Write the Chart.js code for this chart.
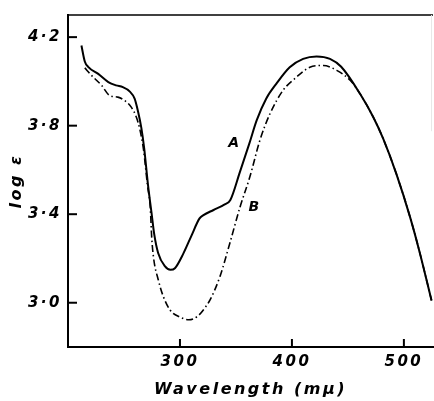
<!DOCTYPE html>
<html>
<head>
<meta charset="utf-8">
<script src="https://cdn.jsdelivr.net/npm/chart.js@4/dist/chart.umd.min.js"></script>
<style>
html,body{margin:0;padding:0;background:#fff;}
</style>
</head>
<body>
<canvas id="chart" width="434" height="401"></canvas>
<script>
// curve A (solid)
var waveA = [212, 215, 218, 227, 236, 243, 249, 255, 259.5, 262.5, 265.5, 268, 271.5, 274.5, 277, 280.5,
    286.5, 291.5, 295.5, 303, 310, 317.5, 321, 330, 340, 345, 353.5, 362, 368.5, 377, 386, 398, 410, 422,
    434, 444, 460.7, 472.6, 481.5, 493.5, 505.4, 514.3, 524.7];
var logA = [4.162, 4.09, 4.066, 4.034, 3.997, 3.982, 3.974, 3.955, 3.922, 3.865, 3.79, 3.70, 3.53, 3.41, 3.31, 3.225,
    3.165, 3.149, 3.156, 3.222, 3.30, 3.381, 3.396, 3.419, 3.444, 3.464, 3.59, 3.72, 3.824, 3.922, 3.989, 4.064, 4.102, 4.113,
    4.102, 4.066, 3.945, 3.839, 3.741, 3.579, 3.389, 3.224, 3.01];
// curve B (dash-dot)
var waveB = [215, 221, 230, 237, 244.5, 250.5, 256.5, 261, 264, 267.5, 271, 273.5, 274.7, 276.5, 280.6, 285, 291,
    300, 308, 316, 322, 327, 335.7, 344.6, 353.5, 362.5, 371.4, 380.4, 392, 404, 416, 428, 440,
    452, 460.7, 472.6, 481.5, 493.5, 505.4, 514.3, 524.7];
var logB = [4.061, 4.027, 3.982, 3.937, 3.929, 3.914, 3.884, 3.839, 3.787, 3.69, 3.53, 3.43, 3.30, 3.20, 3.104, 3.03, 2.968,
    2.935, 2.923, 2.94, 2.975, 3.014, 3.118, 3.27, 3.43, 3.57, 3.734, 3.854, 3.959, 4.019, 4.064, 4.072, 4.05,
    4.005, 3.945, 3.839, 3.741, 3.579, 3.389, 3.224, 3.01];
var xTicks = [300, 400, 500];
var yTicks = [3.0, 3.4, 3.8, 4.2];

var labelFont = {family: 'DejaVu Sans', style: 'italic', weight: 'bold', size: 15};

function pts(xs, ys){
    var out = [];
    for (var i = 0; i < xs.length; i++) out.push({x: xs[i], y: ys[i]});
    return out;
}

// ticks point into the plot, plus the thin frame on top/right, plus curve names
var extras = {
    id: 'extras',
    beforeDraw: function(chart){
        chart.ctx.letterSpacing = '2.5px';
    },
    afterDraw: function(chart){
        var ctx = chart.ctx, a = chart.chartArea;
        var sx = chart.scales.x, sy = chart.scales.y;
        ctx.save();
        ctx.strokeStyle = '#000';
        ctx.lineWidth = 2;
        xTicks.forEach(function(v){
            var px = sx.getPixelForValue(v);
            ctx.beginPath(); ctx.moveTo(px, a.bottom); ctx.lineTo(px, a.bottom - 8); ctx.stroke();
        });
        yTicks.forEach(function(v){
            var py = sy.getPixelForValue(v);
            ctx.beginPath(); ctx.moveTo(a.left, py); ctx.lineTo(a.left + 9, py); ctx.stroke();
        });
        ctx.lineWidth = 1.5;
        ctx.beginPath(); ctx.moveTo(a.left, a.top); ctx.lineTo(a.right, a.top); ctx.stroke();
        ctx.strokeStyle = '#e8e8e8';
        ctx.lineWidth = 1;
        ctx.beginPath(); ctx.moveTo(a.right - 1.5, a.top); ctx.lineTo(a.right - 1.5, a.top + (a.bottom - a.top) * 0.35); ctx.stroke();

        ctx.fillStyle = '#000';
        ctx.font = 'italic bold 14px "DejaVu Sans"';
        ctx.textAlign = 'center';
        ctx.textBaseline = 'middle';
        ctx.fillText('A', sx.getPixelForValue(349), sy.getPixelForValue(3.72));
        ctx.fillText('B', sx.getPixelForValue(367), sy.getPixelForValue(3.43));
        ctx.restore();
    }
};

new Chart(document.getElementById('chart'), {
    type: 'scatter',
    data: {
        datasets: [{
            label: 'A',
            data: pts(waveA, logA),
            showLine: true,
            borderColor: '#000',
            borderWidth: 2,
            pointRadius: 0,
            cubicInterpolationMode: 'monotone'
        }, {
            label: 'B',
            data: pts(waveB, logB),
            showLine: true,
            borderColor: '#000',
            borderWidth: 1.6,
            borderDash: [7, 3, 1.5, 3],
            pointRadius: 0,
            cubicInterpolationMode: 'monotone'
        }]
    },
    options: {
        responsive: false,
        animation: false,
        layout: {padding: {top: 14, right: 1, left: 0, bottom: 0}},
        plugins: {legend: {display: false}, tooltip: {enabled: false}},
        scales: {
            x: {
                type: 'linear', min: 200, max: 526,
                afterBuildTicks: function(s){ s.ticks = xTicks.map(function(v){ return {value: v}; }); },
                afterFit: function(s){ s.height = 54; },
                grid: {display: true, drawOnChartArea: false, drawTicks: false},
                border: {display: true, color: '#000', width: 2},
                ticks: {color: '#000', font: labelFont, padding: 6, maxRotation: 0,
                    callback: function(v){ return String(v); }},
                title: {display: true, text: 'Wavelength (mμ)', color: '#000',
                    font: {family: 'DejaVu Sans', style: 'italic', weight: 'bold', size: 16},
                    padding: {top: 0, bottom: 2}}
            },
            y: {
                type: 'linear', min: 2.8, max: 4.3,
                afterBuildTicks: function(s){ s.ticks = yTicks.map(function(v){ return {value: v}; }); },
                afterFit: function(s){ s.width = 68; },
                grid: {display: true, drawOnChartArea: false, drawTicks: false},
                border: {display: true, color: '#000', width: 2},
                ticks: {color: '#000', font: labelFont, padding: 6,
                    callback: function(v){ return v.toFixed(1).replace('.', '·'); }},
                title: {display: true, text: 'log ε', color: '#000',
                    font: {family: 'DejaVu Sans', style: 'italic', weight: 'bold', size: 16},
                    padding: {top: 7, bottom: 0}}
            }
        }
    },
    plugins: [extras]
});
</script>
</body>
</html>
